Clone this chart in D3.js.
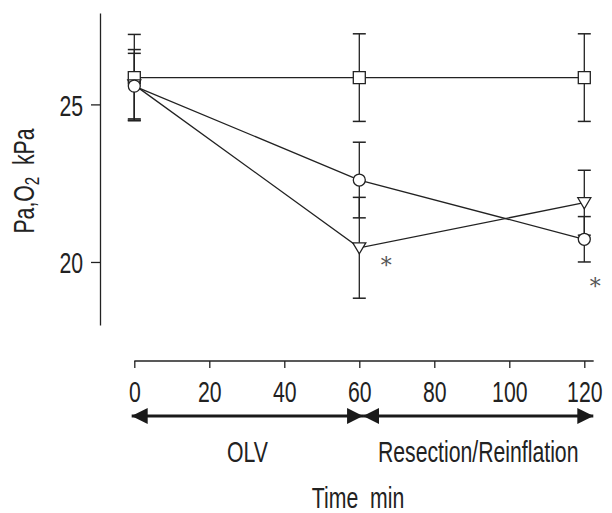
<!DOCTYPE html>
<html>
<head>
<meta charset="utf-8">
<script src="https://cdn.jsdelivr.net/npm/d3@7"></script>
<style>
  body { margin: 0; background: #fff; }
  text { font-family: "Liberation Sans", Arial, sans-serif; fill: #222; }
</style>
</head>
<body>
<div id="chart"></div>
<script>
// time points (min)
const times = [0, 60, 120];

// Pa,O2 means and SD per group
const squareMean = [25.85, 25.85, 25.85];
const squareSD = [1.37, 1.39, 1.39];
const circleMean = [25.58, 22.6, 20.72];
const circleSD = [1.04, 1.2, 0.72];
const triangleMean = [25.62, 20.45, 21.88];
const triangleSD = [1.12, 1.6, 1.03];

const xTicks = [0, 20, 40, 60, 80, 100, 120];
const yTicks = [20, 25];

// phase arrows under the x axis
const phaseNames = ["OLV", "Resection/Reinflation"];
const phaseFrom = [-0.7, 61];
const phaseTo = [61, 122.4];

// significance marks (series, time)
const sigSeries = ["triangle", "circle"];
const sigTimes = [60, 120];

const width = 612, height = 513;
const squeeze = 0.72;   // fake a condensed face
const fs = 29.5;

const svg = d3.select("#chart").append("svg")
    .attr("width", width)
    .attr("height", height);

const x = d3.scaleLinear().domain([0, 120]).range([134.3, 584.3]);
const y = d3.scaleLinear().domain([18, 27.9]).range([325, 13]);

function label(px, py, str, anchor) {
    return svg.append("text")
        .attr("transform", `translate(${px},${py}) scale(${squeeze},1)`)
        .attr("text-anchor", anchor || "middle")
        .style("font-size", fs + "px")
        .style("white-space", "pre")
        .text(str);
}

// y axis
const yAxis = svg.append("g")
    .attr("transform", "translate(100,0)")
    .call(d3.axisLeft(y).tickValues(yTicks).tickSize(9).tickSizeOuter(0).tickFormat(d3.format("d")));
yAxis.select(".domain").attr("stroke", "#222").attr("stroke-width", 1.3);
yAxis.selectAll(".tick line").attr("stroke", "#222").attr("stroke-width", 1.3);
yAxis.selectAll(".tick text")
    .attr("x", 0).attr("dy", 0)
    .attr("transform", `translate(-17,11) scale(${squeeze},1)`)
    .style("font-size", fs + "px")
    .style("font-family", "'Liberation Sans', sans-serif")
    .attr("fill", "#222");

// x axis
const xAxis = svg.append("g")
    .attr("transform", "translate(0,361)")
    .call(d3.axisBottom(x).tickValues(xTicks).tickSize(7).tickSizeOuter(0).tickFormat(d3.format("d")));
xAxis.select(".domain").remove();
xAxis.append("line")
    .attr("x1", x(0)).attr("x2", x(122.5))
    .attr("stroke", "#222").attr("stroke-width", 1.3);
xAxis.selectAll(".tick line").attr("stroke", "#222").attr("stroke-width", 1.3);
xAxis.selectAll(".tick text")
    .attr("y", 0).attr("dy", 0)
    .attr("transform", `translate(0,40.5) scale(${squeeze},1)`)
    .style("font-size", fs + "px")
    .style("font-family", "'Liberation Sans', sans-serif")
    .attr("fill", "#222");

// phase arrows
svg.append("defs").append("marker")
    .attr("id", "head")
    .attr("viewBox", "0 0 16 16")
    .attr("refX", 16).attr("refY", 8)
    .attr("markerWidth", 16).attr("markerHeight", 16)
    .attr("markerUnits", "userSpaceOnUse")
    .attr("orient", "auto-start-reverse")
    .append("path")
    .attr("d", "M0,0 L16,8 L0,16 Z")
    .attr("fill", "#1a1a1a");

const arrowY = 416;
phaseNames.forEach((name, i) => {
    svg.append("line")
        .attr("x1", x(phaseFrom[i])).attr("x2", x(phaseTo[i]))
        .attr("y1", arrowY).attr("y2", arrowY)
        .attr("stroke", "#1a1a1a").attr("stroke-width", 3)
        .attr("marker-start", "url(#head)")
        .attr("marker-end", "url(#head)");
    label((x(phaseFrom[i]) + x(phaseTo[i])) / 2, 462, name);
});

// axis titles
label(358, 508, "Time  min");

const yTitle = svg.append("text")
    .attr("transform", `translate(34,181) rotate(-90) scale(${squeeze},1)`)
    .attr("text-anchor", "middle")
    .style("font-size", fs + "px")
    .style("white-space", "pre");
yTitle.append("tspan").text("Pa,O");
yTitle.append("tspan").attr("dy", 5).style("font-size", "21px").text("2");
yTitle.append("tspan").attr("dy", -5).text("  kPa");

const groups = [
    { key: "square", mean: squareMean, sd: squareSD },
    { key: "triangle", mean: triangleMean, sd: triangleSD },
    { key: "circle", mean: circleMean, sd: circleSD }
];

const line = d3.line().x((d, i) => x(times[i])).y(d => y(d));

const ink = "#222";
const cap = 6.5;

// connecting lines
groups.forEach(g => {
    svg.append("path")
        .datum(g.mean)
        .attr("d", line)
        .attr("fill", "none")
        .attr("stroke", ink)
        .attr("stroke-width", 1.3);
});

// error bars
groups.forEach(g => {
    const eb = svg.append("g").selectAll("g")
        .data(g.mean.map((m, i) => ({ t: times[i], m: m, s: g.sd[i] })))
        .join("g");
    eb.append("line")
        .attr("x1", d => x(d.t)).attr("x2", d => x(d.t))
        .attr("y1", d => y(d.m - d.s)).attr("y2", d => y(d.m + d.s))
        .attr("stroke", ink).attr("stroke-width", 1.3);
    [-1, 1].forEach(sgn => {
        eb.append("line")
            .attr("x1", d => x(d.t) - cap).attr("x2", d => x(d.t) + cap)
            .attr("y1", d => y(d.m + sgn * d.s)).attr("y2", d => y(d.m + sgn * d.s))
            .attr("stroke", ink).attr("stroke-width", 1.5);
    });
});

// markers
const shapes = {
    square: "M-6,-6 L6,-6 L6,6 L-6,6 Z",
    triangle: "M-6.5,-5 L6.5,-5 L0,6 Z",
    circle: d3.symbol(d3.symbolCircle, 113)()
};
groups.forEach(g => {
    svg.append("g").selectAll("path")
        .data(g.mean)
        .join("path")
        .attr("transform", (d, i) => `translate(${x(times[i])},${y(d)})`)
        .attr("d", shapes[g.key])
        .attr("fill", "#fff")
        .attr("stroke", ink)
        .attr("stroke-width", 1.3);
});

// significance asterisks
const sigOffset = { triangle: [27, 13], circle: [11, 43] };
sigSeries.forEach((k, i) => {
    const g = groups.find(d => d.key === k);
    const idx = times.indexOf(sigTimes[i]);
    svg.append("text")
        .attr("x", x(sigTimes[i]) + sigOffset[k][0])
        .attr("y", y(g.mean[idx]) + sigOffset[k][1] + 12)
        .attr("text-anchor", "middle")
        .style("font-family", "'DejaVu Serif', serif")
        .style("font-size", "22px")
        .style("fill", "#555")
        .text("*");
});
</script>
</body>
</html>
